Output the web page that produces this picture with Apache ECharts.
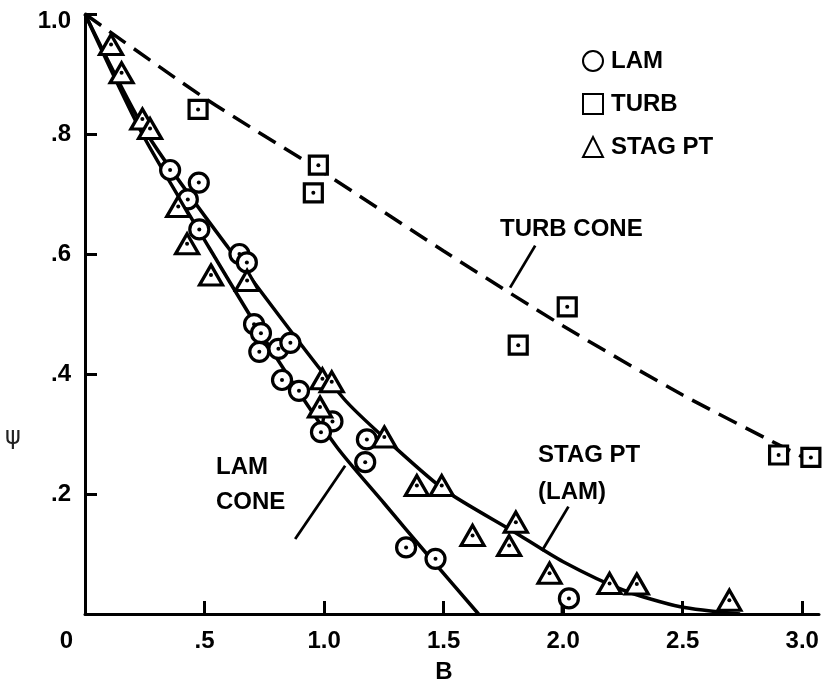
<!DOCTYPE html>
<html>
<head>
<meta charset="utf-8">
<script src="https://cdn.jsdelivr.net/npm/echarts@6/dist/echarts.min.js"></script>
<style>
  html, body { margin: 0; padding: 0; background: #fff; }
  #chart { width: 823px; height: 689px; }
</style>
</head>
<body>
<div id="chart"></div>
<script>
// Measured points: laminar cone (LAM)
const lamB   = [0.356, 0.430, 0.476, 0.478, 0.646, 0.677, 0.707, 0.736, 0.729, 0.809, 0.859, 0.824, 0.895, 1.035, 0.987, 1.179, 1.172, 1.343, 1.466, 2.024];
const lamPsi = [0.740, 0.691, 0.719, 0.641, 0.600, 0.586, 0.483, 0.468, 0.437, 0.442, 0.452, 0.390, 0.372, 0.321, 0.303, 0.291, 0.253, 0.111, 0.092, 0.026];

// Measured points: turbulent cone (TURB)
const turbB   = [0.473, 0.976, 0.955, 1.812, 2.017, 2.901, 3.036];
const turbPsi = [0.841, 0.748, 0.702, 0.448, 0.512, 0.265, 0.261];

// Measured points: stagnation point (STAG PT)
const stagB   = [0.109, 0.153, 0.240, 0.272, 0.390, 0.427, 0.527, 0.678, 0.993, 1.032, 0.983, 1.252, 1.388, 1.492, 1.621, 1.802, 1.774, 1.943, 2.194, 2.308, 2.695];
const stagPsi = [0.949, 0.902, 0.825, 0.809, 0.679, 0.617, 0.565, 0.556, 0.392, 0.387, 0.345, 0.295, 0.214, 0.214, 0.131, 0.153, 0.114, 0.068, 0.051, 0.050, 0.023];

// Correlation curves
const turbConeB   = [0, 0.5, 1.0, 1.5, 2.0, 2.5, 3.0];
const turbConePsi = [1, 0.86, 0.735, 0.605, 0.48, 0.365, 0.262];
const lamConeB    = [0, 0.24, 0.52, 0.78, 1.05, 1.25, 1.43, 1.646];
const lamConePsi  = [1, 0.80, 0.61, 0.44, 0.28, 0.185, 0.10, 0];
const stagCurveB   = [0, 0.26, 0.60, 1.08, 1.29, 1.51, 1.79, 2.0, 2.25, 2.49, 2.74];
const stagCurvePsi = [1, 0.80, 0.61, 0.36, 0.28, 0.205, 0.138, 0.087, 0.04, 0.012, 0];

// Leader lines for the curve labels (data units)
const turbLeader = [[1.883, 0.614], [1.778, 0.544]];
const lamLeader  = [[0.879, 0.125], [1.088, 0.247]];
const stagLeader = [[2.022, 0.179], [1.911, 0.105]];
const lamStem    = [[1.995, 0.014], [1.995, 0]];

// Axis ticks
const xTicks = { min: 0, max: 3.07, interval: 0.5 };
const yTicks = { min: 0, max: 1.0, interval: 0.2 };

const FONT = '"Liberation Sans", Arial, Helvetica, sans-serif';
const zip = (a, b) => a.map((v, i) => [v, b[i]]);

const markerStyle = { color: '#fff', borderColor: '#000', borderWidth: 3.2, opacity: 1 };
const dotSeries = (xs, ys) => ({
  type: 'scatter', data: zip(xs, ys), symbol: 'circle', symbolSize: 4,
  itemStyle: { color: '#000', opacity: 1 }, z: 6, silent: true
});
const curve = (xs, ys, dashed) => ({
  type: 'line', data: zip(xs, ys), showSymbol: false, symbol: 'none',
  smooth: 0.25, silent: true, z: 2,
  lineStyle: { color: '#000', width: 3.5, type: dashed ? [20, 10] : 'solid' }
});
const leader = (pts) => ({
  type: 'line', data: pts, showSymbol: false, symbol: 'none', silent: true, z: 2,
  lineStyle: { color: '#000', width: 2.8 }
});

const chart = echarts.init(document.getElementById('chart'), null, { renderer: 'canvas' });

const textBase = { fontFamily: FONT, fontWeight: 'bold', fontSize: 24, fill: '#000' };
const labelRich = { fontFamily: FONT, fontWeight: 'bold', fontSize: 24, color: '#000' };

chart.setOption({
  animation: false,
  backgroundColor: '#fff',
  grid: { left: 85, right: 4, top: 14, bottom: 68.5 },
  legend: {
    orient: 'vertical', left: 577, top: 44,
    itemWidth: 20, itemHeight: 20, itemGap: 19,
    data: ['LAM', 'TURB', 'STAG PT'],
    textStyle: { fontFamily: FONT, fontWeight: 'bold', fontSize: 24, color: '#000', padding: [0, 0, 0, 3] },
    selectedMode: false
  },
  xAxis: {
    type: 'value', min: xTicks.min, max: xTicks.max, interval: xTicks.interval,
    splitLine: { show: false },
    axisLine: { lineStyle: { color: '#000', width: 3 } },
    axisTick: { inside: true, length: 13, lineStyle: { color: '#000', width: 3 } },
    axisLabel: {
      margin: 15, color: '#000', fontFamily: FONT, fontWeight: 'bold', fontSize: 24,
      formatter: v => v === 0 ? '{z|0}' : (v < 1 ? '.' + v.toFixed(1).split('.')[1] : v.toFixed(1)),
      rich: { z: Object.assign({ padding: [0, 37, 0, 0] }, labelRich) }
    },
    name: 'B', nameLocation: 'middle', nameGap: 46,
    nameTextStyle: { fontFamily: FONT, fontWeight: 'bold', fontSize: 24, color: '#000', padding: [0, 16, 0, 0] }
  },
  yAxis: {
    type: 'value', min: yTicks.min, max: yTicks.max, interval: yTicks.interval,
    splitLine: { show: false },
    axisLine: { lineStyle: { color: '#000', width: 3 } },
    axisTick: { inside: true, length: 12, lineStyle: { color: '#000', width: 3 } },
    axisLabel: {
      margin: 14, color: '#000', fontFamily: FONT, fontWeight: 'bold', fontSize: 24,
      formatter: v => v === 0 ? '' : (v >= 1 ? '{t|1.0}' : '.' + v.toFixed(1).split('.')[1]),
      rich: { t: Object.assign({ padding: [14, 0, 0, 0] }, labelRich) }
    }
  },
  graphic: [
    { type: 'text', left: 5, top: 426, style: { text: 'ψ', fontFamily: '"DejaVu Sans", sans-serif', fontSize: 24, fill: '#222' } },
    { type: 'text', x: 500, y: 229, style: Object.assign({ text: 'TURB CONE', verticalAlign: 'middle' }, textBase) },
    { type: 'text', x: 216, y: 467, style: Object.assign({ text: 'LAM', verticalAlign: 'middle' }, textBase) },
    { type: 'text', x: 216, y: 502, style: Object.assign({ text: 'CONE', verticalAlign: 'middle' }, textBase) },
    { type: 'text', x: 538, y: 455, style: Object.assign({ text: 'STAG PT', verticalAlign: 'middle' }, textBase) },
    { type: 'text', x: 538, y: 492, style: Object.assign({ text: '(LAM)', verticalAlign: 'middle' }, textBase) }
  ],
  series: [
    curve(turbConeB, turbConePsi, true),
    curve(lamConeB, lamConePsi, false),
    curve(stagCurveB, stagCurvePsi, false),
    leader(turbLeader),
    leader(lamLeader),
    leader(stagLeader),
    leader(lamStem),
    { name: 'LAM', type: 'scatter', data: zip(lamB, lamPsi), symbol: 'circle', symbolSize: 19, itemStyle: markerStyle, z: 5 },
    { name: 'TURB', type: 'scatter', data: zip(turbB, turbPsi), symbol: 'rect', symbolSize: 18, itemStyle: markerStyle, z: 5 },
    { name: 'STAG PT', type: 'scatter', data: zip(stagB, stagPsi), symbol: 'triangle', symbolSize: [23, 20], itemStyle: markerStyle, z: 5 },
    dotSeries(lamB, lamPsi),
    dotSeries(turbB, turbPsi),
    dotSeries(stagB, stagPsi)
  ]
});
</script>
</body>
</html>
